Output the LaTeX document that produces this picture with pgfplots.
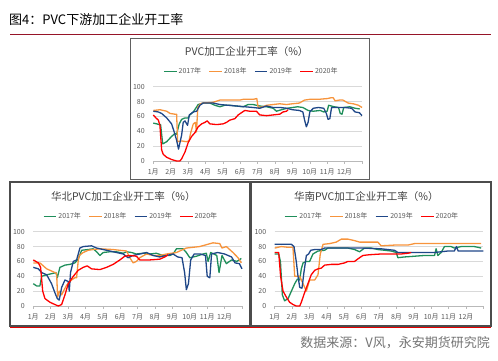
\documentclass[border=0pt]{standalone}
\usepackage{fontspec}
\setmainfont{Noto Sans CJK SC}
\usepackage{pgfplots}
\pgfplotsset{compat=1.18}
\definecolor{c17}{RGB}{31,142,90}
\definecolor{c18}{RGB}{247,148,60}
\definecolor{c19}{RGB}{31,71,136}
\definecolor{c20}{RGB}{255,0,0}
\definecolor{gridc}{RGB}{217,217,217}
\definecolor{txtc}{RGB}{89,89,89}
\definecolor{titc}{RGB}{64,64,64}
\definecolor{hdrred}{RGB}{150,20,40}
\pgfplotsset{
 myax/.style={
  scale only axis, width=208.7pt, height=74.3pt,
  xmin=0, xmax=12, ymin=0, ymax=100,
  xtick={0,1,2,3,4,5,6,7,8,9,10,11,12},
  xticklabels={1月,2月,3月,4月,5月,6月,7月,8月,9月,10月,11月,12月,{}},
  ytick={0,20,40,60,80,100},
  ymajorgrids, grid style={gridc, line width=0.6pt},
  axis x line*=bottom, axis y line*=left,
  y axis line style={draw=none},
  x axis line style={-, draw=gray!55, line width=0.7pt},
  xtick style={draw=gray!55, line width=0.6pt},
  ytick style={draw=none},
  tick align=outside, major tick length=3pt,
  tick label style={font=\fontsize{7}{8}\selectfont, text=txtc},
  yticklabel style={xshift=-2pt},
  xticklabel style={yshift=-1pt},
  /pgf/number format/assume math mode=true,
  clip=false,
  legend columns=4,
  legend style={draw=none, fill=none, font=\fontsize{7}{8}\selectfont, text=txtc,
    anchor=center, inner sep=0pt,
    /tikz/every even column/.append style={column sep=6pt},
    nodes={inner xsep=1.5pt, inner ysep=0pt}},
  legend image code/.code={\draw[#1] (0pt,0pt) -- (12.6pt,0pt);},
  every axis plot/.append style={line width=1.3pt, mark=none, line join=round},
 }
}
\begin{document}
\begin{tikzpicture}[x=1pt,y=1pt]
\path (0pt,0pt) rectangle (498pt,361pt);
% header
\node[anchor=west, inner sep=0pt, font=\fontsize{13}{14}\selectfont] at (9pt,341pt) {图4：PVC下游加工企业开工率};
\draw[hdrred, line width=1pt] (10pt,326pt) -- (491pt,326pt);
% boxes
\draw[gray!75!black, line width=0.9pt] (130pt,182pt) rectangle (369pt,323pt);
\draw[gray!60!black, line width=1.3pt] (10pt,35pt) rectangle (250pt,179pt);
\draw[gray!60!black, line width=1.3pt] (251pt,35pt) rectangle (491pt,179pt);
% footer
\draw[red!90!black, line width=1pt] (10pt,33pt) -- (491pt,33pt);
\node[anchor=east, inner sep=0pt, text=gray!90!black, font=\fontsize{13}{14}\selectfont] at (490pt,18pt) {数据来源：V风，永安期货研究院};

% ---------- top chart ----------
\begin{axis}[myax, at={(153.3pt,200pt)}, anchor=south west,
  legend style={at={(0.469,1.202)}}]
\addplot[c17] coordinates {(0,51)(0.19,50)(0.34,49)(0.42,49)(0.54,23)(0.77,26)(1.05,33)(1.24,37)(1.34,36)(1.49,50)(1.63,56)(1.82,58)(2.01,58)(2.1,62)(2.3,66)(2.58,76)(2.87,78)(3.25,78)(3.54,75)(3.83,73)(4.11,75)(4.4,75)(4.78,74)(5.17,73)(5.45,76)(5.74,76)(6.12,74)(6.51,73)(6.89,71)(7.08,67)(7.37,69)(7.7,71)(8.0,72)(8.3,73)(8.6,72)(8.9,68)(9.2,67)(9.6,68)(9.8,66)(10.0,67)(10.08,75)(10.4,73)(10.65,72)(10.75,64)(10.85,63)(10.95,72)(11.3,73)(11.6,71)(11.87,70)};
\addlegendentry{2017年}
\addplot[c18] coordinates {(0,68)(0.38,69)(0.77,67)(0.96,64)(1.24,63)(1.34,63)(1.40,26)(1.63,27)(1.9,26)(2.05,27)(2.15,38)(2.3,50)(2.42,52)(2.48,39)(2.56,72)(2.7,77)(2.87,78)(3.44,79)(3.83,82)(4.98,82)(5.17,83)(5.74,83)(5.95,84)(6.03,72)(6.3,73)(6.51,75)(6.89,76)(7.27,77)(7.66,76)(8.0,77)(8.4,78)(8.7,82)(9.0,83)(9.5,83)(10.0,84)(10.2,85)(10.35,85)(10.45,81)(10.7,82)(10.9,82)(11.2,78)(11.5,77)(11.8,75)(12,72)};
\addlegendentry{2018年}
\addplot[c19] coordinates {(0,67)(0.29,66)(0.48,64)(0.77,58)(1.05,50)(1.19,40)(1.34,28)(1.45,16)(1.63,35)(1.72,52)(1.82,54)(1.97,48)(2.07,62)(2.3,66)(2.49,67)(2.68,75)(2.87,78)(3.44,78)(3.83,76)(4.78,74)(5.74,72)(6.12,71)(6.51,74)(6.89,72)(7.3,72)(7.66,71)(8.0,69)(8.4,68)(8.6,66)(8.7,55)(8.8,46)(8.9,52)(9.0,66)(9.2,71)(9.5,72)(9.8,71)(9.95,64)(10.05,56)(10.15,57)(10.25,72)(10.6,72)(11.0,72)(11.4,71)(11.6,66)(11.85,65)(12,61)};
\addlegendentry{2019年}
\addplot[c20] coordinates {(0,62)(0.15,58)(0.29,55)(0.38,48)(0.48,15)(0.57,9)(0.77,5)(1.05,2)(1.34,0)(1.53,0)(1.63,3)(1.82,12)(2.01,25)(2.2,33)(2.39,38)(2.58,46)(2.78,50)(2.97,52)(3.1,54)(3.25,50)(3.64,49)(4.02,50)(4.21,52)(4.4,55)(4.69,57)(4.88,62)(5.07,65)(5.26,68)(5.55,67)(5.93,67)(6.12,62)(6.51,61)(6.89,62)(7.27,63)(7.46,66)(7.66,67)(7.75,69)};
\addlegendentry{2020年}
\end{axis}
\node[font=\fontsize{10.5}{12}\selectfont, text=titc] at (246.7pt,309.3pt) {PVC加工企业开工率（\%）};

% ---------- North ----------
\begin{axis}[myax, at={(33.3pt,55pt)}, anchor=south west,
  legend style={at={(0.4675,1.202)}}]
\addplot[c17] coordinates {(0,30)(0.19,27)(0.38,27)(0.48,40)(0.77,42)(1.15,44)(1.3,45)(1.38,38)(1.53,52)(1.82,55)(2.1,56)(2.39,58)(2.58,63)(2.78,75)(3.16,76)(3.44,77)(3.64,73)(3.83,68)(4.02,72)(4.4,73)(4.78,73)(5.17,71)(5.36,73)(5.65,72)(5.93,70)(6.32,71)(6.7,70)(7.08,71)(7.46,68)(7.85,68)(8.04,70)(8.23,77)(8.61,77)(8.8,72)(9.0,65)(9.38,67)(9.76,70)(9.95,71)(10.05,60)(10.2,72)(10.55,68)(10.68,45)(10.85,68)(11.1,57)(11.4,62)(11.7,60)(11.96,64)};
\addlegendentry{2017年}
\addplot[c18] coordinates {(0,58)(0.38,58)(0.77,50)(1.15,46)(1.34,44)(1.4,12)(1.5,20)(1.63,15)(1.91,28)(2.2,35)(2.39,38)(2.49,38)(2.58,60)(2.64,68)(2.87,72)(3.16,75)(3.44,76)(3.83,77)(4.59,76)(5.36,74)(5.55,65)(5.74,58)(5.93,60)(6.12,65)(6.51,70)(6.89,68)(7.27,68)(7.66,70)(8.23,72)(8.8,78)(9.57,80)(10.33,85)(10.72,84)(10.85,78)(11.1,80)(11.48,72)(11.77,65)(11.96,58)};
\addlegendentry{2018年}
\addplot[c19] coordinates {(0,52)(0.29,50)(0.48,45)(0.77,42)(1.05,30)(1.24,18)(1.38,10)(1.49,8)(1.63,25)(1.82,35)(2.01,33)(2.07,20)(2.14,45)(2.3,60)(2.49,62)(2.68,78)(2.87,80)(3.35,81)(3.64,78)(4.02,76)(4.59,73)(5.17,70)(5.45,65)(5.74,68)(6.12,70)(6.51,72)(6.89,68)(7.27,66)(7.66,68)(8.04,70)(8.3,66)(8.55,65)(8.7,45)(8.8,22)(8.92,30)(9.05,62)(9.25,70)(9.6,70)(9.9,68)(10.0,40)(10.15,38)(10.25,70)(10.6,72)(11.0,70)(11.4,66)(11.6,58)(11.85,57)(12,50)};
\addlegendentry{2019年}
\addplot[c20] coordinates {(0,62)(0.29,58)(0.42,52)(0.54,20)(0.67,10)(0.96,5)(1.24,2)(1.44,0)(1.63,2)(1.82,15)(2.01,30)(2.3,40)(2.58,48)(2.87,52)(3.1,54)(3.35,50)(3.83,49)(4.21,52)(4.59,56)(4.98,62)(5.26,67)(5.55,68)(5.93,67)(6.12,62)(6.7,62)(7.27,63)(7.56,66)(7.75,69)};
\addlegendentry{2020年}
\end{axis}
\node[font=\fontsize{10.5}{12}\selectfont, text=titc] at (123.3pt,164.3pt) {华北PVC加工企业开工率（\%）};

% ---------- South ----------
\begin{axis}[myax, at={(274.7pt,55pt)}, anchor=south west,
  legend style={at={(0.4655,1.202)}}]
\addplot[c17] coordinates {(0,70)(0.23,70)(0.33,60)(0.44,15)(0.57,7)(0.77,10)(0.96,20)(1.15,30)(1.3,36)(1.44,35)(1.53,50)(1.63,58)(1.82,60)(2.01,60)(2.2,70)(2.49,74)(2.87,75)(3.06,78)(3.64,78)(4.21,78)(4.59,76)(4.88,73)(5.17,78)(5.55,78)(5.93,76)(6.32,75)(6.7,74)(6.99,72)(7.08,65)(7.46,66)(8.04,67)(8.61,68)(9.19,68)(9.28,77)(9.38,68)(9.57,72)(9.76,80)(10.14,80)(10.33,78)(10.72,80)(11.48,80)(11.87,78)};
\addlegendentry{2017年}
\addplot[c18] coordinates {(0,78)(0.38,80)(0.77,79)(1.05,79)(1.15,40)(1.44,40)(1.63,30)(1.82,20)(2.01,35)(2.3,35)(2.49,42)(2.62,70)(2.78,83)(3.16,84)(3.54,86)(3.83,90)(4.21,90)(4.59,88)(4.88,86)(5.17,86)(5.93,86)(6.12,81)(6.89,82)(7.66,82)(8.04,84)(9.19,84)(9.95,84)(10.91,84)(11.87,84)};
\addlegendentry{2018年}
\addplot[c19] coordinates {(0,83)(0.38,83)(0.77,83)(0.96,83)(1.11,80)(1.24,60)(1.34,40)(1.44,25)(1.57,24)(1.68,45)(1.82,68)(1.95,70)(2.07,75)(2.3,76)(2.68,76)(2.87,78)(3.83,78)(4.98,78)(6.12,77)(6.89,75)(7.08,72)(7.66,72)(8.42,72)(9.19,72)(9.95,74)(10.33,74)(10.45,80)(10.55,74)(11.48,74)(12,74)};
\addlegendentry{2019年}
\addplot[c20] coordinates {(0,72)(0.23,72)(0.34,40)(0.48,20)(0.67,12)(0.86,5)(1.05,2)(1.24,0)(1.44,0)(1.53,5)(1.72,18)(1.91,30)(2.1,42)(2.3,48)(2.49,50)(2.68,51)(2.87,55)(3.25,56)(3.64,56)(4.02,58)(4.21,60)(4.59,60)(4.88,65)(5.07,68)(5.45,69)(6.12,70)(6.7,70)(7.27,70)(7.66,71)(7.85,72)};
\addlegendentry{2020年}
\end{axis}
\node[font=\fontsize{10.5}{12}\selectfont, text=titc] at (366.3pt,164.3pt) {华南PVC加工企业开工率（\%）};
\end{tikzpicture}
\end{document}
